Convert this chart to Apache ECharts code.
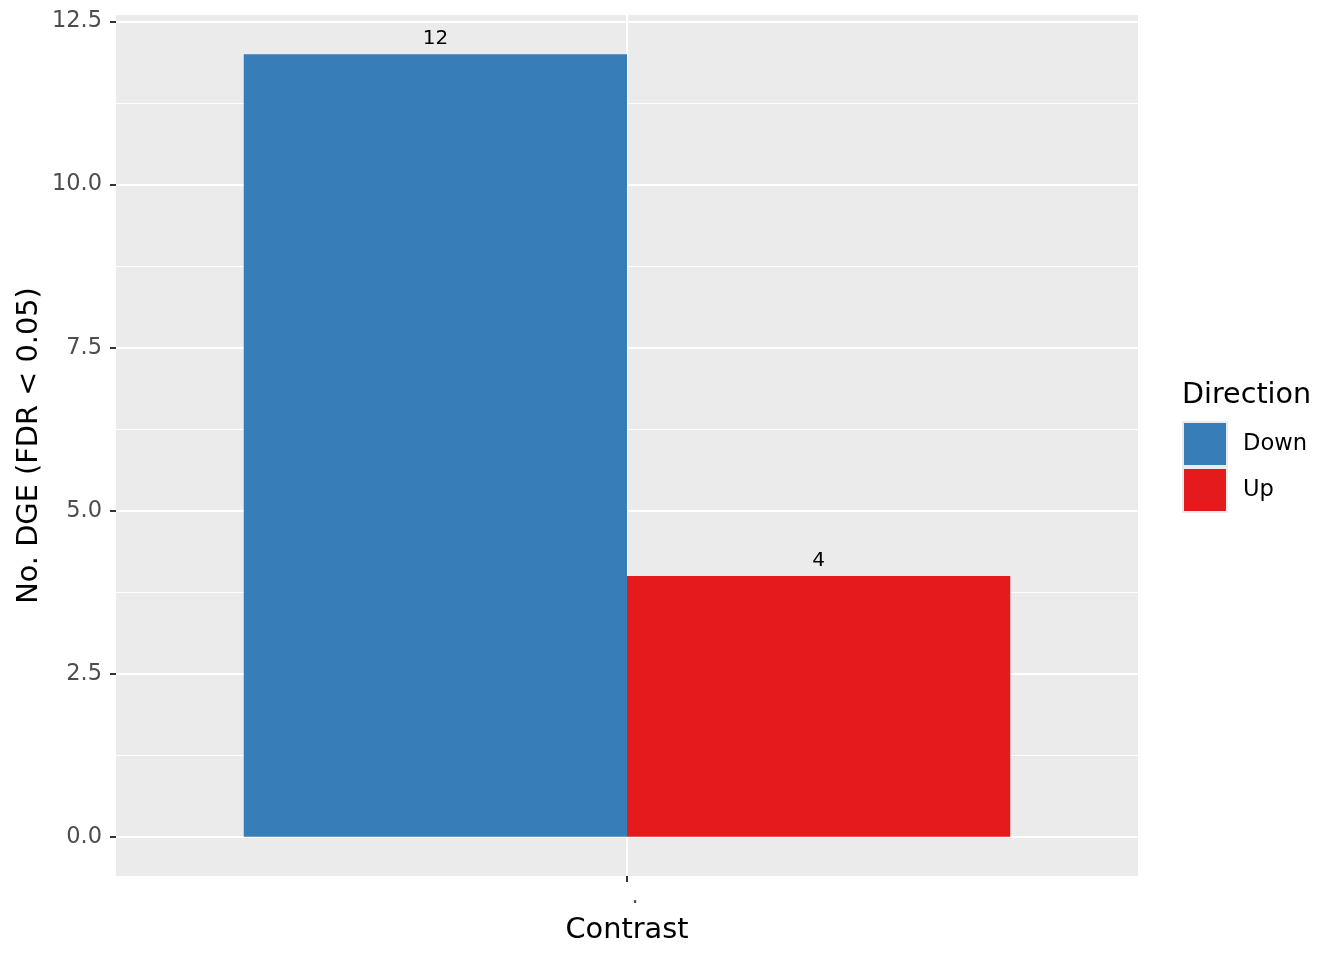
<!DOCTYPE html>
<html>
<head>
<meta charset="utf-8">
<script src="https://cdn.jsdelivr.net/npm/echarts@6/dist/echarts.min.js"></script>
<style>
html,body{margin:0;padding:0;background:#fff;}
#chart{width:1344px;height:960px;}
</style>
</head>
<body>
<div id="chart"></div>
<script>
// Data
const categories = ['.'];
const seriesNames = ['Down', 'Up'];
const downValues = [12];
const upValues = [4];
const yTicks = [0, 2.5, 5, 7.5, 10, 12.5];

const FONT = 'DejaVu Sans';
const colors = ['#377EB8', '#E41A1C'];

// Panel layout (pixels)
const W = 1344, H = 960;
const panelLeft = 116, panelRight = 1138, panelTop = 15, panelBottom = 876;

// ggplot-like 5% expansion of y range
const dataMax = Math.max(...downValues, ...upValues);
const yMin = -0.05 * dataMax, yMax = dataMax + 0.05 * dataMax;
const pxPerUnit = (panelBottom - panelTop) / (yMax - yMin);
const y0px = panelBottom - (0 - yMin) * pxPerUnit;
const yTopTick = yTicks[yTicks.length - 1];
const yTopPx = y0px - yTopTick * pxPerUnit;

const chart = echarts.init(document.getElementById('chart'));
const option = {
  backgroundColor: '#ffffff',
  animation: false,
  textStyle: { fontFamily: FONT },
  title: {
    text: 'Direction',
    left: 1182,
    top: 381,
    padding: 0,
    textStyle: { fontFamily: FONT, fontSize: 28.6, fontWeight: 'normal', color: '#000' }
  },
  legend: {
    orient: 'vertical',
    left: 1182,
    top: 421,
    padding: 0,
    itemWidth: 44,
    itemHeight: 44,
    itemGap: 0,
    icon: 'rect',
    data: seriesNames,
    itemStyle: { borderColor: '#EBEBEB', borderWidth: 2 },
    textStyle: { fontFamily: FONT, fontSize: 22.6, color: '#000', padding: [0, 0, 0, 11] }
  },
  grid: [
    { // panel
      left: panelLeft, right: W - panelRight, top: panelTop, bottom: H - panelBottom,
      show: true, backgroundColor: '#EBEBEB', borderWidth: 0
    },
    { // data region 0..12.5
      left: panelLeft, right: W - panelRight, top: yTopPx, bottom: H - y0px,
      show: false
    }
  ],
  xAxis: [
    {
      gridIndex: 0,
      type: 'category',
      data: ['', categories[0], ''],
      boundaryGap: false,
      axisLine: { show: false, onZero: false },
      axisTick: { show: true, length: 6, interval: (i) => i === 1, lineStyle: { color: '#333333', width: 2 } },
      axisLabel: { show: true, interval: (i) => i === 1, color: '#4D4D4D', fontSize: 22.5, fontFamily: FONT, margin: 10, padding: [0, 0, 0, 16] },
      splitLine: { show: true, interval: (i) => i === 1, lineStyle: { color: '#ffffff', width: 2 } },
      name: 'Contrast',
      nameLocation: 'middle',
      nameGap: 40,
      nameTextStyle: { fontFamily: FONT, fontSize: 28.8, color: '#000' }
    },
    {
      gridIndex: 1,
      type: 'category',
      data: categories,
      boundaryGap: true,
      show: false
    }
  ],
  yAxis: [
    {
      gridIndex: 0,
      type: 'value',
      min: yMin, max: yMax,
      axisLine: { show: false }, axisTick: { show: false }, axisLabel: { show: false },
      splitLine: { show: false },
      name: 'No. DGE (FDR < 0.05)',
      nameLocation: 'middle',
      nameRotate: 90,
      nameGap: 72,
      nameTextStyle: { fontFamily: FONT, fontSize: 28.8, color: '#000' }
    },
    {
      gridIndex: 1,
      type: 'value',
      min: yTicks[0], max: yTopTick, interval: yTicks[1] - yTicks[0],
      axisLine: { show: false },
      axisTick: { show: true, length: 6, lineStyle: { color: '#333333', width: 2 } },
      axisLabel: { color: '#4D4D4D', fontSize: 22.5, fontFamily: FONT, margin: 14, padding: [3, 0, 0, 0], formatter: (v) => v.toFixed(1) },
      splitLine: { show: true, lineStyle: { color: '#ffffff', width: 2 } },
      minorTick: { show: false, splitNumber: 2 },
      minorSplitLine: { show: true, lineStyle: { color: '#ffffff', width: 1 } }
    }
  ],
  series: [
    {
      name: seriesNames[0], type: 'bar', xAxisIndex: 1, yAxisIndex: 1,
      data: downValues,
      itemStyle: { color: colors[0] },
      barGap: '0%', barCategoryGap: '25%',
      label: { show: true, position: 'top', distance: 5, color: '#000', fontSize: 20, fontFamily: FONT }
    },
    {
      name: seriesNames[1], type: 'bar', xAxisIndex: 1, yAxisIndex: 1,
      data: upValues,
      itemStyle: { color: colors[1] },
      barGap: '0%', barCategoryGap: '25%',
      label: { show: true, position: 'top', distance: 5, color: '#000', fontSize: 20, fontFamily: FONT }
    }
  ]
};
chart.setOption(option);
</script>
</body>
</html>
